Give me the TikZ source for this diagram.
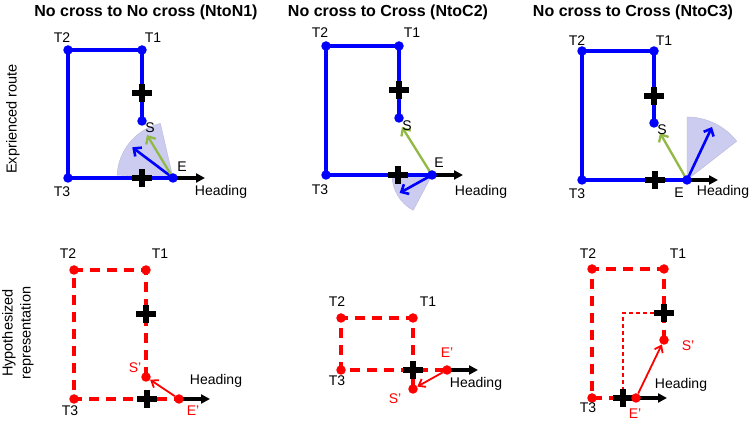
\documentclass[tikz,border=0pt]{standalone}
\usepackage{fontspec}
\setmainfont{Liberation Sans}
\usetikzlibrary{arrows.meta,calc}
\definecolor{pblue}{RGB}{0,0,255}
\definecolor{pred}{RGB}{255,0,0}
\definecolor{pgreen}{RGB}{145,185,70}
\definecolor{wedgefill}{RGB}{204,204,240}
\definecolor{wedgeedge}{RGB}{185,185,215}
\newcommand\mycross[1]{%
  \draw[crossbar] ([xshift=-10pt]#1) -- ([xshift=10pt]#1);
  \draw[crossbar] ([yshift=-9pt]#1) -- ([yshift=9pt]#1);}
\begin{document}
\begin{tikzpicture}[x=1pt,y=1pt,
 bdot/.style={circle,fill=pblue,inner sep=0pt,minimum size=9.5pt},
 rdot/.style={circle,fill=pred,inner sep=0pt,minimum size=9.5pt},
 lbl/.style={font=\fontsize{14}{16}\selectfont,inner sep=0pt},
 rlbl/.style={lbl,text=pred},
 ttl/.style={font=\fontsize{16}{18}\selectfont\bfseries,inner sep=0pt},
 side/.style={font=\fontsize{14.5}{18}\selectfont,rotate=90,align=center,inner sep=0pt},
 route/.style={draw=pblue,line width=3.6pt},
 hyp/.style={draw=pred,line width=3.3pt,dash pattern=on 10pt off 7pt},
 thinhyp/.style={draw=pred,line width=1.2pt,dash pattern=on 4pt off 3pt},
 crossbar/.style={line width=5.5pt,black},
 head/.style={line width=3.5pt,-{Triangle[length=9pt,width=9pt]}},
 barrow/.style={draw=pblue,line width=2.6pt,-{Straight Barb[length=6pt,width=11pt]}},
 garrow/.style={draw=pgreen,line width=2.3pt,-{Straight Barb[length=6pt,width=11pt]}},
 rarrow/.style={draw=pred,line width=1.8pt,-{Straight Barb[length=6pt,width=9pt]}},
 wedge/.style={fill=wedgefill,draw=wedgeedge,line width=0.4pt}
]
\fill[white] (0,0) rectangle (750,422);
\path[use as bounding box] (0,0) rectangle (750,422);

% titles and side labels
\node[ttl] (ti1) at (146,410) {No cross to No cross (NtoN1)};
\node[ttl] (ti2) at (388,410) {No cross to Cross (NtoC2)};
\node[ttl] (ti3) at (633,410) {No cross to Cross (NtoC3)};
\node[side] (sd1) at (13,303) {Exprienced route};
\node[side] (sd2) at (18,89) {Hypothesized\\representation};

% ===== Panel 1 top =====
\coordinate (a1E) at (173,244);
\fill[wedge] (a1E) -- ++(103:56pt) arc[start angle=103,end angle=177,radius=56pt] -- cycle;
\node[bdot] (a1T2) at (68,372) {};
\node[bdot] (a1T1) at (142,372) {};
\node[bdot] (a1S) at (142,301) {};
\node[bdot] (a1T3) at (68,244) {};
\draw[route] (a1S.center) -- (a1T1.center) -- (a1T2.center) -- (a1T3.center) -- (a1E);
\coordinate (a1c1) at (142,329);
\coordinate (a1c2) at (142,244);
\mycross{a1c1}
\mycross{a1c2}
\coordinate (a1H) at (205,244);
\coordinate (a1B) at ($(a1E)+(143:51pt)$);
\coordinate (a1G) at (147,287);
\draw[head] (a1E) -- (a1H);
\draw[barrow] (a1E) -- (a1B);
\draw[garrow] (a1E) -- (a1G);
\node[bdot] (a1Ed) at (a1E) {};
\node[lbl] (a1lT2) at (62,384) {T2};
\node[lbl] (a1lT1) at (153,384) {T1};
\node[lbl] (a1lT3) at (62,230) {T3};
\node[lbl] (a1lE) at (182,255) {E};
\node[lbl] (a1lS) at (150,294) {S};
\node[lbl] (a1lH) at (221,230) {Heading};

% ===== Panel 2 top =====
\coordinate (a2E) at (432,247);
\fill[wedge] (a2E) -- ++(180:40pt) arc[start angle=180,end angle=242,radius=40pt] -- cycle;
\node[bdot] (a2T2) at (326,376) {};
\node[bdot] (a2T1) at (399,376) {};
\node[bdot] (a2S) at (399,304) {};
\node[bdot] (a2T3) at (326,247) {};
\draw[route] (a2S.center) -- (a2T1.center) -- (a2T2.center) -- (a2T3.center) -- (a2E);
\coordinate (a2c1) at (399,332);
\coordinate (a2c2) at (398,247);
\mycross{a2c1}
\mycross{a2c2}
\coordinate (a2H) at (463,247);
\coordinate (a2B) at ($(a2E)+(209:37pt)$);
\coordinate (a2G) at (402,295);
\draw[head] (a2E) -- (a2H);
\draw[barrow] (a2E) -- (a2B);
\draw[garrow] (a2E) -- (a2G);
\node[bdot] (a2Ed) at (a2E) {};
\node[lbl] (a2lT2) at (320,389) {T2};
\node[lbl] (a2lT1) at (412,389) {T1};
\node[lbl] (a2lT3) at (320,232) {T3};
\node[lbl] (a2lE) at (439,259) {E};
\node[lbl] (a2lS) at (407,296) {S};
\node[lbl] (a2lH) at (481,230) {Heading};

% ===== Panel 3 top =====
\coordinate (a3E) at (687,242);
\fill[wedge] (a3E) -- ++(38:63pt) arc[start angle=38,end angle=90,radius=63pt] -- cycle;
\node[bdot] (a3T2) at (582,371) {};
\node[bdot] (a3T1) at (654,371) {};
\node[bdot] (a3S) at (654,299) {};
\node[bdot] (a3T3) at (582,242) {};
\draw[route] (a3S.center) -- (a3T1.center) -- (a3T2.center) -- (a3T3.center) -- (a3E);
\coordinate (a3c1) at (654,326);
\coordinate (a3c2) at (655,242);
\mycross{a3c1}
\mycross{a3c2}
\coordinate (a3H) at (718,242);
\coordinate (a3B) at (712,295);
\coordinate (a3G) at (660,289);
\draw[head] (a3E) -- (a3H);
\draw[barrow] (a3E) -- (a3B);
\draw[garrow] (a3E) -- (a3G);
\node[bdot] (a3Ed) at (a3E) {};
\node[lbl] (a3lT2) at (577,381) {T2};
\node[lbl] (a3lT1) at (664,381) {T1};
\node[lbl] (a3lT3) at (577,228) {T3};
\node[lbl] (a3lE) at (679,229) {E};
\node[lbl] (a3lS) at (662,292) {S};
\node[lbl] (a3lH) at (723,230) {Heading};

% ===== Panel 1 bottom =====
\node[rdot] (b1T2) at (74,152) {};
\node[rdot] (b1T1) at (146,152) {};
\node[rdot] (b1S) at (146,45) {};
\node[rdot] (b1T3) at (74,23) {};
\coordinate (b1E) at (179,23);
\draw[hyp] (b1S.center) -- (b1T1.center) -- (b1T2.center) -- (b1T3.center) -- (b1E);
\coordinate (b1c1) at (146,108);
\coordinate (b1c2) at (147,23);
\mycross{b1c1}
\mycross{b1c2}
\coordinate (b1H) at (210,23);
\draw[head] (b1E) -- (b1H);
\node[rdot] (b1Ed) at (b1E) {};
\draw[rarrow] (b1Ed) -- (b1S);
\node[lbl] (b1lT2) at (68,168) {T2};
\node[lbl] (b1lT1) at (160,168) {T1};
\node[lbl] (b1lT3) at (70,11) {T3};
\node[rlbl] (b1lS) at (135,54) {S'};
\node[rlbl] (b1lE) at (193,11) {E'};
\node[lbl] (b1lH) at (216,41) {Heading};

% ===== Panel 2 bottom =====
\node[rdot] (b2T2) at (341,104) {};
\node[rdot] (b2T1) at (413,104) {};
\node[rdot] (b2S) at (413,33) {};
\node[rdot] (b2T3) at (341,52) {};
\coordinate (b2E) at (447,52);
\draw[hyp] (b2S.center) -- (b2T1.center) -- (b2T2.center) -- (b2T3.center) -- (b2E);
\coordinate (b2c1) at (413,52);
\mycross{b2c1}
\coordinate (b2H) at (478,52);
\draw[head] (b2E) -- (b2H);
\node[rdot] (b2Ed) at (b2E) {};
\draw[rarrow] (b2Ed) -- (b2S);
\node[lbl] (b2lT2) at (337,120) {T2};
\node[lbl] (b2lT1) at (428,120) {T1};
\node[lbl] (b2lT3) at (337,41) {T3};
\node[rlbl] (b2lE) at (447,69) {E'};
\node[rlbl] (b2lS) at (395,23) {S'};
\node[lbl] (b2lH) at (476,38) {Heading};

% ===== Panel 3 bottom =====
\node[rdot] (b3T2) at (592,153) {};
\node[rdot] (b3T1) at (664,153) {};
\node[rdot] (b3S) at (664,82) {};
\node[rdot] (b3T3) at (592,24) {};
\coordinate (b3E) at (636,24);
\draw[hyp] (b3S.center) -- (b3T1.center) -- (b3T2.center) -- (b3T3.center) -- (b3E);
\coordinate (b3c1) at (664,109);
\coordinate (b3c2) at (623,24);
\coordinate (b3k) at (623,109);
\draw[thinhyp] (b3c2) -- (b3k) -- (b3c1);
\mycross{b3c1}
\mycross{b3c2}
\coordinate (b3H) at (667,24);
\draw[head] (b3E) -- (b3H);
\node[rdot] (b3Ed) at (b3E) {};
\draw[rarrow] (b3Ed) -- (b3S);
\node[lbl] (b3lT2) at (588,168) {T2};
\node[lbl] (b3lT1) at (678,168) {T1};
\node[lbl] (b3lT3) at (588,14) {T3};
\node[rlbl] (b3lS) at (688,76) {S'};
\node[rlbl] (b3lE) at (635,8) {E'};
\node[lbl] (b3lH) at (681,37) {Heading};
\end{tikzpicture}
\end{document}
